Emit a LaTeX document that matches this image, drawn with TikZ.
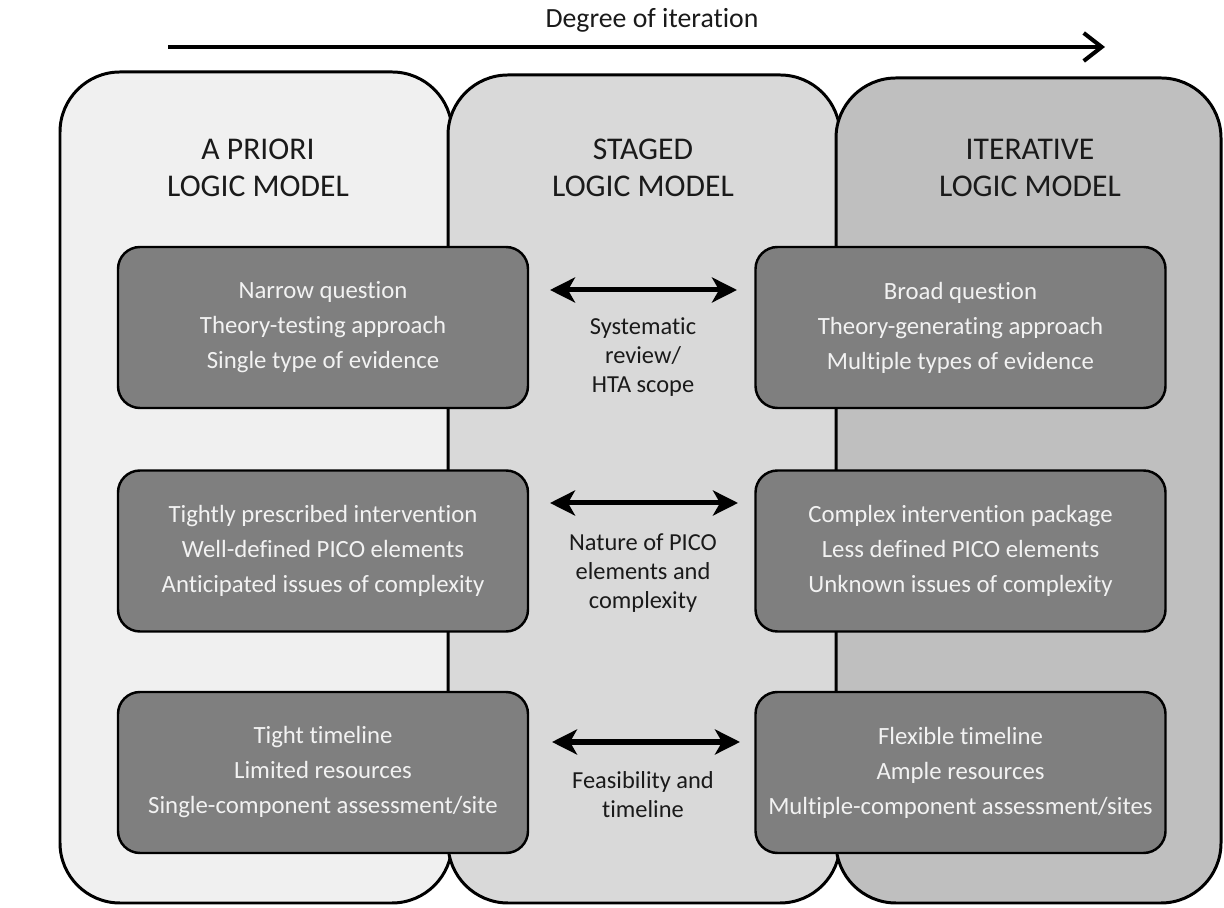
\documentclass[tikz,border=0pt]{standalone}
\usepackage{fontspec}
\setmainfont[Ligatures=NoCommon]{Carlito}
\usetikzlibrary{arrows.meta}

\definecolor{fondA}{HTML}{F0F0F0}
\definecolor{fondS}{HTML}{D9D9D9}
\definecolor{fondI}{HTML}{BFBFBF}
\definecolor{boitegris}{HTML}{7F7F7F}
\definecolor{textegris}{HTML}{1A1A1A}

\tikzset{
  panneau/.style={draw=black, line width=1.7pt, rounded corners=1.2cm, inner sep=0pt},
  boite/.style={draw=black, line width=1.4pt, fill=boitegris, rounded corners=0.44cm,
    minimum width=8.2cm, minimum height=3.22cm, align=center, text=white!95!black,
    font=\fontsize{14.1}{19.9}\selectfont},
  entete/.style={align=center, text=textegris, font=\fontsize{18}{21}\selectfont},
  legende/.style={align=center, text=textegris, font=\fontsize{13.9}{16.5}\selectfont},
  lien/.style={line width=2.85pt,
    {Stealth[length=0.5cm,width=0.5cm,inset=0.14cm]}-{Stealth[length=0.5cm,width=0.5cm,inset=0.14cm]}}
}

\begin{document}
\begin{tikzpicture}
        \useasboundingbox (0,0) rectangle (24.48,18.16);

        % Fleche du haut
        \node[text=textegris, font=\fontsize{15.8}{19}\selectfont] (degre) at (13.04,17.76) {Degree of iteration};
        \coordinate (d1) at (3.36,17.22);
        \coordinate (d2) at (22.1,17.22);
        \draw[line width=2.3pt, -{Straight Barb[length=0.36cm,width=0.56cm]}] (d1) -- (d2);

        % Les trois panneaux
        \node[panneau, fill=fondA, minimum width=7.84cm, minimum height=16.62cm] (apriori) at (5.12,8.41) {};
        \node[panneau, fill=fondS, minimum width=7.84cm, minimum height=16.56cm] (staged) at (12.88,8.38) {};
        \node[panneau, fill=fondI, minimum width=7.7cm, minimum height=16.5cm] (iterative) at (20.57,8.35) {};

        \node[entete] (titreA) at (5.16,14.8) {A PRIORI\\LOGIC MODEL};
        \node[entete] (titreS) at (12.86,14.8) {STAGED\\LOGIC MODEL};
        \node[entete] (titreI) at (20.6,14.8) {ITERATIVE\\LOGIC MODEL};

        % Boites de gauche
        \node[boite] (scopeA) at (6.46,11.61) {Narrow question\\Theory-testing approach\\Single type of evidence};
        \node[boite] (picoA) at (6.46,7.14) {Tightly prescribed intervention\\Well-defined PICO elements\\Anticipated issues of complexity};
        \node[boite] (feasA) at (6.46,2.71) {Tight timeline\\Limited resources\\Single-component assessment/site};

        % Boites de droite
        \node[boite] (scopeI) at (19.21,11.61) {Broad question\\Theory-generating approach\\Multiple types of evidence};
        \node[boite] (picoI) at (19.21,7.14) {Complex intervention package\\Less defined PICO elements\\Unknown issues of complexity};
        \node[boite] (feasI) at (19.21,2.71) {Flexible timeline\\Ample resources\\Multiple-component assessment/sites};

        % Fleches doubles et legendes
        \coordinate (s1) at (11.0,12.36);
        \coordinate (s2) at (14.74,12.36);
        \draw[lien] (s1) -- (s2);
        \node[legende] (scopelab) at (12.86,11.02) {Systematic\\review/\\HTA scope};

        \coordinate (p1) at (11.0,8.1);
        \coordinate (p2) at (14.76,8.1);
        \draw[lien] (p1) -- (p2);
        \node[legende] (picolab) at (12.86,6.7) {Nature of PICO\\elements and\\complexity};

        \coordinate (f1) at (11.04,3.32);
        \coordinate (f2) at (14.8,3.32);
        \draw[lien] (f1) -- (f2);
        \node[legende] (feaslab) at (12.86,2.26) {Feasibility and\\timeline};

    \end{tikzpicture}
\end{document}
